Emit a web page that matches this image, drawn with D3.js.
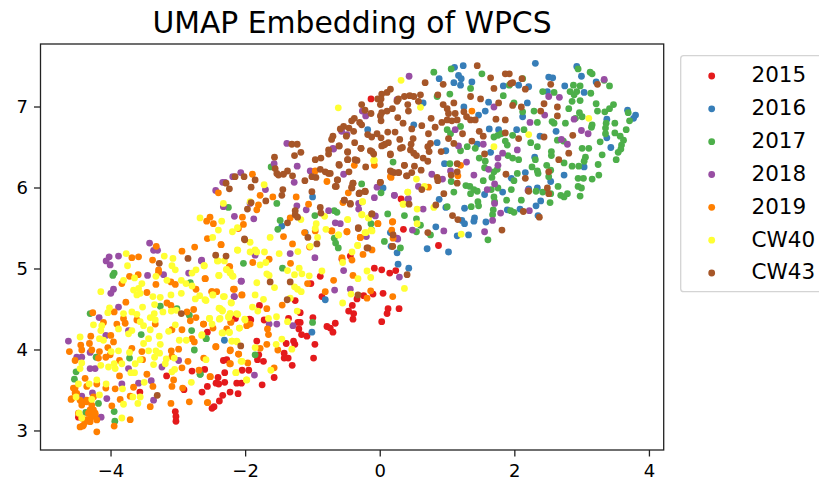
<!DOCTYPE html>
<html><head><meta charset="utf-8">
<script src="https://cdn.jsdelivr.net/npm/d3@7/dist/d3.min.js"></script>
<style>html,body{margin:0;padding:0;background:#fff;overflow:hidden}svg{display:block}text{font-family:"DejaVu Sans",sans-serif}</style>
</head><body><svg id="c" width="819" height="481"></svg>
<script>
const title="UMAP Embedding of WPCS";
const seriesNames=["2015","2016","2017","2018","2019","CW40","CW43"];
const seriesColors=["#e41a1c","#377eb8","#4daf4a","#984ea3","#ff7f00","#ffff33","#a65628"];
const xTicks=[-4,-2,0,2,4];
const yTicks=[3,4,5,6,7];
const s2015=[[-4.53,3.17],[-3.08,3.24],[-3.07,3.18],[-3.07,3.12],[-2.53,3.28],[-2.5,3.3],[-2.42,3.37],[-2.37,3.44],[-2.26,3.48],[-2.14,3.46],[-2.68,3.48],[-2.6,3.55],[-2.47,3.59],[-2.43,3.58],[-2.34,3.6],[-2.16,3.59],[-2.09,3.59],[-2.44,3.66],[-2.34,3.72],[-2.83,3.74],[-2.64,3.76],[-3.21,3.68],[-2.95,3.51],[-3.61,3.48],[-2.08,3.75],[-1.98,3.75],[-2.36,3.87],[-2.31,3.88],[-2.6,4.22],[-2.18,4.39],[-1.97,4.38],[-1.85,3.88],[-1.76,3.86],[-1.83,3.94],[-1.86,4.11],[-1.78,3.57],[-1.6,3.66],[-1.33,3.81],[-1.45,3.9],[-1.39,3.9],[-1.45,3.96],[-1.42,4.08],[-1.31,4.11],[-1.29,4.07],[-1.19,4.19],[-1.11,4.17],[-1.01,3.9],[-0.99,4.07],[-1.23,4.26],[-1.245,4.34],[-1.21,4.34],[-1.02,4.4],[-1.385,4.39],[-1.21,4.46],[-1.285,4.61],[-1.82,4.55],[-1.75,4.37],[-1.95,4.37],[-0.81,4.29],[-0.76,4.27],[-0.685,4.33],[-0.72,4.22],[-0.42,4.38],[-0.41,4.45],[-0.485,4.48],[-0.43,4.55],[0.01,4.35],[0.09,4.45],[0.105,4.51],[0.27,4.51],[0.03,4.7],[-0.12,4.69],[-0.36,4.63],[-0.26,4.67],[-0.885,4.66],[-0.91,4.91],[-1.05,4.82],[-0.1,5.01],[0.01,4.99],[0.13,4.95],[0.22,4.98],[0.335,5.49],[0.3,5.865],[-0.46,5.16],[-0.585,5.12],[-0.15,7.1],[0.86,5.29]];
const s2016=[[1.23,7.51],[1.1,7.49],[2.31,7.54],[2.93,7.5],[2.51,7.37],[2.57,7.36],[3,7.38],[0.87,7.35],[1.16,7.39],[1.2,7.35],[1.09,7.3],[1.19,7.27],[1.36,7.31],[1.83,7.26],[2.06,7.27],[2.21,7.25],[2.75,7.26],[3.22,7.31],[3.04,7.18],[2.49,7.19],[0.63,7.05],[1.24,7],[1.61,7.06],[2.19,7.05],[1.56,6.95],[1.46,6.9],[2.12,6.88],[0.49,6.78],[-0.2,6.72],[1.62,6.73],[1.76,6.72],[2.03,6.72],[2.62,6.7],[2.38,6.64],[3.38,6.62],[0.84,6.56],[0.97,6.46],[1.64,6.44],[1.44,6.54],[3.44,6.5],[2.3,6.38],[0.95,6.3],[3.04,6.26],[2.74,6.16],[1.95,6.12],[2.16,6.19],[2.34,6],[2.21,5.99],[2.54,6.08],[1.55,5.92],[1.82,5.95],[0.87,5.86],[1.25,5.75],[0.97,5.76],[2.39,5.84],[2.32,5.78],[1.89,5.73],[2.08,5.74],[2.35,5.66],[1.4,5.63],[1.39,5.59],[1.21,5.6],[1.25,5.56],[1.57,5.58],[0.82,5.52],[1.31,5.42],[1.14,5.41],[3.69,6.96],[3.81,6.9],[3.78,6.86],[3.38,6.85],[0.03,6],[0.14,5.45],[0.69,5.25],[1.01,5.21],[-1.025,5.89],[-1.485,5.53],[-1.135,5.45],[-0.835,4.62],[-1.035,4.22],[-2.345,4.12],[0.255,5.06],[0.415,5.01],[0.24,5.2],[0.15,5.28],[0.165,5.44]];
const s2017=[[0.79,7.43],[1.05,7.47],[1.51,7.41],[3.13,7.43],[3.16,7.41],[2.95,7.47],[3.34,7.33],[3.42,7.26],[2.12,7.35],[1.92,7.27],[2.88,7.27],[2.98,7.26],[1.34,7.23],[1.03,7.16],[1.83,7.14],[0.84,7.13],[2.42,7.19],[2.59,7.18],[2.83,7.19],[2.93,7.19],[2.89,7.15],[3.14,7.17],[2.86,7.07],[2.98,7.08],[3.22,7.04],[3.48,7.03],[3.42,6.98],[3.35,6.94],[3.24,6.95],[2.81,6.98],[2.29,6.95],[1.99,7.05],[2.12,6.94],[3.7,6.93],[2.97,6.93],[3.01,6.88],[2.34,6.81],[2.56,6.82],[2.59,6.8],[2.76,6.8],[2.91,6.86],[3.5,6.8],[3.72,6.83],[3.16,6.78],[3.37,6.8],[3.36,6.74],[3.15,6.75],[3.67,6.72],[3.5,6.68],[2.14,6.72],[1.69,6.63],[1.75,6.65],[1.8,6.67],[1.97,6.65],[1.86,6.58],[1.89,6.53],[2.24,6.56],[2.34,6.51],[2.64,6.59],[2.73,6.58],[3.28,6.57],[3.58,6.64],[3.63,6.59],[3.6,6.53],[3.59,6.48],[3.55,6.44],[3.01,6.49],[3.11,6.49],[2.55,6.45],[2.55,6.4],[2.31,6.35],[1.9,6.4],[1.97,6.37],[2.06,6.35],[1.47,6.37],[1.56,6.33],[1.29,6.51],[1.41,6.49],[1.19,6.46],[0.99,6.72],[1.04,6.67],[1.19,6.76],[0.18,6.32],[1.03,6.3],[1.55,6.25],[2.26,6.26],[2.34,6.21],[2.35,6.18],[2.48,6.28],[2.54,6.22],[2.51,6.14],[1.69,6.2],[1.66,6.13],[2.04,6.18],[1.99,6.09],[1.53,6.09],[1.74,6.23],[2.86,6.27],[2.96,6.27],[3.06,6.38],[3.04,6.33],[3.25,6.29],[3.26,6.16],[3.16,6.11],[2.95,6.12],[3.03,6.12],[2.95,6.02],[3,6],[2.98,5.9],[2.65,6.02],[2.69,5.91],[2.79,5.93],[2.54,5.93],[2.74,5.89],[2.32,5.96],[2.42,5.95],[1.95,5.98],[1.75,6],[1.65,5.98],[1.69,5.89],[1.7,5.83],[1.88,5.85],[2.1,5.85],[2.53,5.82],[1.27,6.03],[1.33,6.02],[1.39,5.98],[1.34,5.93],[1.44,5.96],[1.09,5.95],[1.35,5.77],[1.45,5.83],[1.46,5.78],[0.99,5.77],[0.1,5.68],[0.35,5.66],[0.53,5.62],[0.53,5.46],[0.59,5.54],[1.94,5.72],[1.99,5.7],[1.67,5.67],[1.68,5.73],[-0.15,5.56],[-0.14,5.48],[-0.7,5.38],[-0.68,5.32],[-0.64,5.26],[0.05,5.34],[0.29,5.26],[-0.29,6.05],[0,5.94],[-0.66,5.7],[-0.7,5.72],[0.74,5.42],[1.6,5.36],[1.05,6.08],[3.31,6.41],[3.52,6.35],[2.74,6.31],[3.36,6.67],[-1.645,6.26],[-1.56,5.81],[-2.285,5.76],[-1.51,5.6],[-1.545,5.49],[-2.06,5.07],[-1.475,5.01],[-1.885,3.94],[-1.025,4.34],[-0.99,5.66],[-2.62,4.14],[-2.71,3.7],[-3.995,4.95],[-4.015,4.92],[-4.355,4.45],[-3.59,4.19],[-2.835,4.24],[-2.615,4.14],[-2.795,4],[-3.305,4.54],[-2.87,4.43],[-2.855,4.83],[-3.055,4.51],[-4.565,3.73],[-4.59,3.64],[-3.765,3.9],[-4.265,3.91],[-2.705,3.7],[-4.23,3.34],[-4.42,3.23],[-3.995,3.24],[-3.985,3.12]];
const s2018=[[-3.465,5.32],[-3.405,5.23],[-3.345,5.23],[-3.93,5.16],[-4.07,5.15],[-4.115,5.1],[-4.055,5.05],[-3.495,4.92],[-2.69,5.1],[-3.255,4.93],[-2.88,4.95],[-2.09,4.85],[-2.195,4.66],[-4.005,4.75],[-4.045,4.7],[-3.93,4.53],[-4.22,4.4],[-3.78,4.24],[-4.12,4.18],[-4.68,4.11],[-4.355,3.97],[-4.555,3.91],[-4.48,3.91],[-4.355,3.77],[-4.28,3.77],[-3.78,3.77],[-3.28,3.79],[-3.03,3.87],[-3.88,3.58],[-3.44,3.62],[-3.63,3.59],[-4.32,3.47],[-4.48,3.43],[-4.105,3.4],[-3.405,3.38],[-4.19,3.17],[-1.41,6.55],[-0.71,6.48],[-1.6,6.3],[-1.255,6.27],[-2.1,6.19],[-2.22,6.14],[-2.37,6.07],[-2.335,6.07],[-1.06,6.21],[-0.56,6.17],[-1.3,6.07],[-2.475,5.97],[-1.73,5.98],[-1.96,5.81],[-2.36,5.77],[-1.26,5.78],[-1.12,5.73],[-0.785,5.72],[-2.195,5.65],[-1.905,5.62],[-0.685,5.57],[-0.61,5.56],[-0.06,6.01],[-0.1,5.88],[-0.335,5.81],[-0.335,5.74],[0.2,5.91],[0.4,5.86],[-0.085,5.655],[0.24,5.38],[-1.885,5.17],[-1.36,5.19],[-0.99,5.14],[-2.095,4.85],[-2.2,4.66],[-0.56,4.98],[0.275,4.9],[-0.46,4.75],[-0.695,4.74],[-1.675,4.32],[-1.56,4.32],[-1.32,4.3],[-1.895,3.69],[-2.685,5.11],[0.42,7.38],[3.34,7.34],[2.51,7.13],[2.67,7.12],[1.69,7],[2.45,6.9],[2.23,6.81],[2.89,6.85],[3,6.71],[3.1,6.67],[2.7,6.6],[2.79,6.54],[1.53,6.54],[1.16,6.52],[1.11,6.72],[2.04,6.47],[1.82,6.43],[1.75,6.37],[1.75,6.28],[1.28,6.32],[1.61,6.23],[0.76,6.17],[0.92,6.11],[1.39,6.16],[1.7,6.05],[1.59,5.98],[2.2,5.97],[0.56,6.02],[0.2,5.91],[0.41,5.87],[1.7,5.81],[0.63,5.74],[2.22,5.72],[1.79,5.69],[1.67,5.6],[1.55,5.46],[0.94,5.47],[0.47,5.48],[0.25,5.37],[-0.28,6.95],[-0.23,6.89],[0.24,7.09],[-0.72,6.49],[-0.59,6.7],[-0.51,6.66],[1.04,6.21],[-0.22,5.4]];
const s2019=[[-3.365,5.28],[-2.98,5.22],[-2.79,5.27],[-2.395,5.3],[-3.73,5.14],[-3.63,5.15],[-3.42,5.11],[-3.33,4.99],[-3.33,4.96],[-3.765,4.91],[-3.635,4.93],[-2.63,4.88],[-2.265,5.03],[-3.37,4.81],[-3.08,4.81],[-3.145,4.84],[-3.88,4.82],[-2.77,4.75],[-3.505,4.71],[-2.53,4.72],[-2.195,4.75],[-2.08,4.68],[-3.82,4.59],[-3.205,4.58],[-3.145,4.55],[-2.905,4.47],[-3.995,4.47],[-4.315,4.46],[-3.855,4.39],[-3.83,4.33],[-3.955,4.32],[-4.155,4.34],[-3.655,4.37],[-3.38,4.32],[-2.77,4.4],[-2.855,4.36],[-2.655,4.32],[-2.515,4.27],[-2.98,4.25],[-2.245,4.35],[-3.13,4.25],[-4.345,4.17],[-4.045,4.18],[-4.365,4.08],[-4.495,4.06],[-4.48,4],[-4.33,4],[-4.665,3.98],[-4.215,3.98],[-4.09,4.03],[-4.005,4.1],[-3.73,4.02],[-3.14,3.99],[-3.03,4.01],[-2.83,4.14],[-2.795,4.1],[-2.47,4.04],[-2.255,4],[-2.13,3.95],[-3.58,3.98],[-4.58,3.87],[-4.23,3.9],[-4.12,3.91],[-4.055,3.94],[-3.915,3.87],[-3.57,3.88],[-3.13,3.92],[-2.89,3.86],[-2.655,3.9],[-2.255,3.83],[-2.98,3.78],[-2.725,3.75],[-2.555,3.67],[-3.105,3.63],[-3.505,3.7],[-3.915,3.68],[-4.43,3.65],[-4.405,3.55],[-4.605,3.53],[-4.255,3.58],[-4.12,3.53],[-3.98,3.52],[-3.705,3.54],[-3.415,3.55],[-3.13,3.55],[-2.97,3.53],[-4.58,3.47],[-4.64,3.39],[-4.505,3.38],[-4.405,3.38],[-4.48,3.32],[-4.53,3.22],[-4.48,3.16],[-4.43,3.11],[-4.465,3.06],[-4.38,3.14],[-4.33,3.18],[-4.305,3.22],[-4.355,3.26],[-4.28,3.2],[-4.255,2.99],[-3.995,3.06],[-3.755,3.14],[-4.03,3.31],[-3.905,3.39],[-3.755,3.43],[-3.455,3.3],[-3.145,3.34],[-2.87,3.36],[-2.595,3.35],[-2.805,4.5],[-4.555,3.465],[-4.58,3.53],[-4.63,3.4],[-4.48,3.36],[-4.405,3.36],[-4.33,3.32],[-4.305,3.26],[-4.38,3.22],[-4.33,3.18],[-4.28,3.22],[-4.405,3.14],[-4.455,3.07],[-4.505,3.05],[-4.355,3.115],[-4.305,3.42],[-4.255,3.136],[-1.925,6.17],[-0.985,6.21],[-0.81,6.08],[-2.435,5.94],[-1.81,5.91],[-1.62,5.89],[-1.27,5.89],[-1.085,5.8],[-1.835,5.79],[-1.86,5.73],[-1.36,5.63],[-2.075,5.64],[-2.56,5.64],[-2.61,5.59],[-2.51,5.56],[-2.06,5.55],[-2.135,5.5],[-1.145,5.45],[-0.985,5.47],[-0.735,5.47],[-0.51,5.46],[-0.045,5.56],[0.175,5.585],[-0.31,5.39],[-1.46,5.4],[-2.6,5.375],[-2.395,5.3],[-1.325,5.31],[-1.07,5.27],[-0.27,5.18],[-0.135,5.235],[-0.435,5.11],[-1.675,5.12],[-1.92,5.08],[-1.355,5.07],[-2.27,5.03],[-0.42,4.92],[-0.71,4.86],[-1.1,4.82],[-2.635,4.88],[-2.21,4.75],[-2.085,4.68],[-2.535,4.72],[-2.46,4.72],[-0.835,4.72],[-0.21,4.64],[-0.155,4.73],[0.175,4.66],[-1.48,4.555],[-1.71,4.51],[-2.66,4.32],[-2.25,4.34],[-2.01,4.3],[-1.96,4.32],[-1.7,4.26],[-1.685,4.19],[-2.31,4.26],[-2.475,4.04],[-2.26,3.99],[-2.135,3.95],[-1.71,4.07],[-1.545,4],[-1.81,4.02],[-1.995,3.84],[-2.265,3.83],[-2.56,3.67],[-1.6,3.78],[-2.6,3.35],[-0.585,5.14],[0.15,6.13],[1.36,6.95],[1.15,6.15],[1.19,6.28],[0.71,6.01],[0.17,5.58],[-0.05,5.56],[0.16,5.48],[0.18,5.38],[-0.51,5.46],[-0.31,5.39],[-0.74,5.47],[-0.1,6.28],[-0.4,6.28],[0.14,6.14],[-0.49,5.94],[-0.57,5.82]];
const sCW40=[[-3.815,5.19],[-3.795,5.04],[-3.245,5.16],[-3.115,5.13],[-3.13,5.04],[-3.08,4.99],[-2.83,4.95],[-2.77,4.99],[-2.645,5.04],[-2.44,5.1],[-2.315,4.996],[-2.255,4.96],[-2.215,4.91],[-2.145,5.23],[-2.425,4.92],[-3.37,4.91],[-3.205,4.86],[-3.855,4.86],[-3.69,4.89],[-2.99,4.86],[-2.92,4.82],[-2.83,4.79],[-4.195,4.72],[-3.58,4.82],[-3.63,4.76],[-3.705,4.74],[-3.605,4.7],[-3.655,4.68],[-3.415,4.66],[-3.305,4.65],[-3.145,4.68],[-2.99,4.7],[-2.715,4.67],[-2.78,4.63],[-2.62,4.61],[-2.515,4.68],[-2.345,4.66],[-2.24,4.58],[-3.57,4.53],[-3.39,4.56],[-3.265,4.47],[-3.395,4.45],[-3.14,4.48],[-3.065,4.49],[-4.065,4.52],[-4.09,4.46],[-3.855,4.45],[-3.73,4.47],[-3.655,4.44],[-3.455,4.4],[-3.38,4.37],[-3.605,4.35],[-3.555,4.3],[-3.455,4.25],[-4.305,4.31],[-4.18,4.3],[-4.195,4.24],[-3.93,4.26],[-3.73,4.24],[-3.78,4.2],[-3.08,4.31],[-3.18,4.23],[-2.405,4.51],[-2.375,4.49],[-2.255,4.45],[-2.145,4.44],[-2.28,4.4],[-2.41,4.39],[-2.565,4.39],[-2.53,4.32],[-2.04,4.38],[-2.12,4.27],[-4.505,4.16],[-4.215,4.14],[-4.155,4.12],[-3.32,4.17],[-3.48,4.14],[-3.555,4.08],[-3.305,4.07],[-3.02,4.12],[-2.915,4.12],[-2.685,4.18],[-2.38,4.21],[-2.27,4.22],[-2.23,4.11],[-2.155,4.1],[-3.93,3.99],[-4.04,3.98],[-3.765,3.97],[-3.48,3.99],[-3.37,3.99],[-3.315,3.96],[-3.39,3.91],[-3.605,3.88],[-3.68,3.83],[-3.215,3.89],[-3.095,3.9],[-3.405,3.82],[-3.23,3.83],[-4.48,3.84],[-4.195,3.81],[-4.08,3.79],[-3.995,3.83],[-3.88,3.83],[-3.98,3.77],[-4.505,3.77],[-3.745,3.72],[-3.69,3.72],[-3.13,3.73],[-3.09,3.76],[-2.08,3.86],[-2.17,3.72],[-2.015,3.63],[-4.255,3.63],[-4.53,3.58],[-4.37,3.58],[-4.115,3.58],[-3.87,3.52],[-3.545,3.6],[-2.84,3.6],[-3.715,3.42],[-3.605,3.42],[-4.565,3.42],[-4.33,3.39],[-4.215,3.445],[-3.64,3.34],[-3.855,3.33],[-4.52,3.22],[-4.48,3.16],[-3.88,3.16],[-1.75,6.04],[-2.36,5.81],[-1.96,5.83],[-2.385,5.59],[-2.71,5.63],[-2.435,5.48],[-2.52,5.39],[-2.225,5.46],[-2.15,5.51],[-1.66,5.39],[-1.2,5.61],[-0.97,5.56],[-0.985,5.5],[-0.845,5.65],[-0.825,5.49],[-0.95,5.39],[-0.5,5.61],[-0.635,5.42],[-0.275,5.83],[-0.285,5.67],[-0.185,5.63],[-0.135,5.47],[-0.225,5.45],[-0.1,6.34],[0.335,5.8],[0.4,5.95],[-1.96,5.33],[-2.15,5.235],[-1.885,5.235],[-1.96,5.21],[-1.86,5.21],[-1.745,5.21],[-1.525,5.19],[-1.245,5.215],[-1.06,5.28],[-0.35,5.29],[-0.435,5.21],[-0.575,5.08],[-2.45,5.1],[-2.345,5.1],[-1.81,5.05],[-1.725,5.08],[-2.31,4.99],[-2.26,4.95],[-2.225,4.915],[-2.43,4.92],[-2.65,5.04],[-1.71,4.94],[-1.675,4.92],[-1.86,4.83],[-1.595,4.77],[-1.4,4.98],[-1.295,4.93],[-1.225,5.01],[-1.185,4.94],[-1.075,4.915],[-0.885,4.975],[-1.295,4.78],[-1.25,4.75],[-1.195,4.72],[-0.345,4.88],[-0.21,4.975],[-0.155,4.895],[0.35,4.76],[-0.45,4.69],[-0.575,4.58],[-2.52,4.68],[-2.36,4.66],[-2.635,4.62],[-1.885,4.68],[-1.76,4.626],[-2.245,4.585],[-2.425,4.515],[-2.375,4.48],[-1.925,4.53],[-1.845,4.48],[-2.26,4.45],[-2.16,4.45],[-2.285,4.41],[-2.42,4.38],[-2.57,4.39],[-2.035,4.37],[-1.685,4.39],[-1.565,4.41],[-1.255,4.48],[-1.4,4.35],[-1.36,4.64],[-2.12,4.27],[-2.37,4.21],[-2.27,4.215],[-2.68,4.19],[-2.235,4.11],[-2.16,4.11],[-1.485,4.135],[-1.57,4.07],[-1.885,4.03],[-1.335,4.01],[-2.62,3.88],[-2.095,3.86],[-1.65,3.75],[-2.175,3.72],[-2.01,3.63],[0.3,7.33],[-0.64,6.99],[0.59,6.996],[-0.11,6.34],[2.21,6.66],[1.69,6.51],[3.11,6.86],[0.53,6.11],[0.65,6.02],[0.4,5.95],[-0.28,5.83],[-0.29,5.67],[-0.19,5.63],[-0.5,5.61],[0.33,5.8],[0.54,5.74],[0.79,5.76],[0.54,5.56],[1.2,5.43],[-0.15,5.48],[-0.24,5.45],[-0.35,5.29],[-0.64,5.42]];
const sCW43=[[1.44,7.51],[1.64,7.36],[1.86,7.41],[1.92,7.41],[2.11,7.35],[1.97,7.3],[1.94,7.29],[0.93,7.28],[0.66,7.3],[1.69,7.23],[2.16,7.22],[2.54,7.28],[3.24,7.28],[0.14,7.22],[0.09,7.18],[0.01,7.16],[-0.05,7.1],[0,7.1],[-0.01,7.03],[-0.29,7.03],[-0.24,6.96],[-0.15,6.92],[0.01,6.93],[0.09,6.95],[0.17,6.98],[0.24,7.07],[0.26,7.1],[0.35,7.13],[0.43,7.14],[0.49,7.13],[0.59,7.15],[0.56,7.07],[0.4,7.03],[0.41,6.95],[-0.01,6.89],[0,6.83],[0.85,7.15],[1.34,7.13],[1.49,7.1],[1.76,7.05],[1.09,7.05],[0.93,7.03],[0.99,6.98],[1.01,6.92],[1.11,6.92],[1.24,6.94],[1.28,6.88],[1.34,6.84],[1.41,6.84],[1.97,7.02],[2.1,7],[2.44,7.04],[2.39,6.95],[2.64,7],[2.64,6.89],[0.25,6.87],[0.33,6.8],[0.75,6.86],[0.61,6.77],[0.46,6.73],[0.81,6.75],[0.91,6.81],[0.99,6.84],[1.14,6.84],[1.06,6.83],[1.72,6.85],[1.86,6.84],[-0.4,6.86],[-0.44,6.83],[-0.32,6.81],[-0.29,6.78],[-0.56,6.76],[-0.61,6.73],[-0.48,6.74],[-0.41,6.7],[-0.52,6.64],[-0.72,6.64],[-0.74,6.6],[-0.63,6.52],[-0.2,6.66],[-0.14,6.63],[-0.06,6.67],[0,6.62],[0.1,6.69],[0.21,6.69],[0.28,6.6],[0.48,6.61],[0.45,6.54],[0.71,6.67],[1.22,6.67],[1.01,6.61],[1.09,6.55],[1.36,6.58],[1.47,6.7],[1.53,6.64],[1.86,6.68],[2.06,6.61],[2.44,6.63],[2.87,6.65],[0.11,6.56],[0.06,6.54],[0.01,6.52],[0.32,6.5],[-0.3,6.49],[-0.5,6.45],[-0.16,6.46],[-0.11,6.42],[0.14,6.41],[0.44,6.47],[0.49,6.43],[0.53,6.4],[0.63,6.37],[0.7,6.33],[0.74,6.55],[0.7,6.51],[0.72,6.45],[0.9,6.45],[1.55,6.42],[2.81,6.43],[2.66,6.35],[-0.5,6.35],[-0.39,6.35],[-0.63,6.29],[-0.23,6.26],[-0.48,6.2],[0.35,6.28],[0.5,6.27],[0.6,6.22],[0.14,6.21],[0.2,6.19],[0.26,6.19],[0.38,6.15],[0.46,6.19],[1.14,6.3],[1.14,6.2],[1.05,6.16],[0.84,6.13],[0.85,6.09],[1.14,6.06],[1.87,6.17],[2.16,6.12],[2.51,6.2],[2.49,6],[2.51,5.93],[2.21,5.96],[-0.65,6.1],[-0.67,6.02],[-0.42,6.06],[-0.44,6.01],[-0.76,6.18],[-0.01,6.07],[-0.24,5.96],[-0.33,5.93],[0.61,5.98],[0.94,5.93],[0.42,5.8],[0.82,5.79],[-0.46,5.81],[-0.55,5.85],[-0.14,5.68],[1.07,5.66],[1.15,5.61],[2.13,5.71],[2.37,5.64],[1.81,5.48],[-0.34,5.51],[0.7,5.45],[-0.21,5.26],[0.17,5.28],[-1.335,6.54],[-1.255,6.54],[-0.625,6.52],[-0.785,6.47],[-0.785,6.42],[-0.5,6.44],[-0.395,6.56],[-0.3,6.49],[-0.135,6.45],[0.14,6.42],[0.04,6.53],[0.29,6.49],[-1.595,6.38],[-1.295,6.4],[-1.2,6.44],[-0.985,6.35],[-0.9,6.37],[-0.5,6.35],[-0.625,6.28],[-0.36,6.34],[0.35,6.28],[-0.91,6.23],[-1.585,6.24],[-1.56,6.18],[-1.535,6.16],[-1.4,6.21],[-1.325,6.15],[-1.46,6.17],[-0.785,6.18],[-0.835,6.2],[-1.035,6.14],[-0.975,6.13],[-1.14,6.09],[-0.655,6.1],[0.165,6.2],[0.265,6.19],[0.39,6.15],[-2.185,6.14],[-2.05,6.14],[-1.885,6.1],[-2.32,6.06],[-2.27,5.99],[-1.945,6.01],[-1.47,5.98],[-1.485,5.91],[-1.035,5.955],[-0.685,6.02],[-0.42,6.06],[-0.435,6],[-0.32,5.94],[-0.235,5.955],[-0.01,6.07],[-0.55,5.85],[-0.46,5.8],[-1.725,5.84],[-1.945,5.82],[-2,5.74],[-1.285,5.72],[-1.285,5.67],[-1.25,5.64],[-0.91,5.76],[-0.9,5.69],[-1.4,5.57],[-0.135,5.68],[-0.34,5.5],[0.18,5.42],[0.175,5.28],[-1.095,5.39],[-0.96,5.31],[-0.195,5.26],[-2.045,5.37],[-2.475,5.17],[-2.32,5.16],[-1.66,4.84],[-1.36,4.84],[0.39,4.93],[-0.345,4.68],[-1.405,4.62],[-2.1,4.05],[-2.04,5.36],[-2.89,5.13],[-3.32,5.07],[-2.99,4.45],[-3.35,3.44]];

const seriesData=[s2015,s2016,s2017,s2018,s2019,sCW40,sCW43];
const svg=d3.select("#c");
const x=d3.scaleLinear().domain([-5.048,4.212]).range([40.5,663.7]);
const y=d3.scaleLinear().domain([2.765,7.778]).range([450,44]);
// The x readings above were taken against a ruler 0.7% too short; this corrects them to the axis.
const readX=v=>0.012+0.9926*v;

svg.append("defs").append("clipPath").attr("id","plot").append("rect").attr("x",40.5).attr("y",44).attr("width",623.2).attr("height",406);
const plot=svg.append("g").attr("clip-path","url(#plot)");
seriesData.forEach((pts,i)=>{
  plot.append("g").selectAll("circle").data(pts).join("circle")
    .attr("cx",d=>x(readX(d[0]))).attr("cy",d=>y(d[1])).attr("r",3.4)
    .attr("fill",seriesColors[i]);
});

const gx=svg.append("g").attr("transform","translate(0,450)").call(d3.axisBottom(x).tickValues(xTicks).tickSize(6.5).tickPadding(7.4).offset(0));
const gy=svg.append("g").attr("transform","translate(40.5,0)").call(d3.axisLeft(y).tickValues(yTicks).tickFormat(d3.format("d")).tickSize(6.5).tickPadding(6).offset(0));
[gx,gy].forEach(g=>{
  g.select(".domain").remove();
  g.selectAll("line").attr("stroke","#222").attr("stroke-width",1.3);
  g.selectAll("text").attr("fill","#000").style("font-size","18px").style("font-family",'"DejaVu Sans"');
});
svg.append("rect").attr("x",40.5).attr("y",44).attr("width",623.2).attr("height",406).attr("fill","none").attr("stroke","#222").attr("stroke-width",1.3);

svg.append("text").attr("x",352).attr("y",33.3).attr("text-anchor","middle").attr("font-size",29.8).attr("fill","#000").text(title);

const lg=svg.append("g");
lg.append("rect").attr("x",680.7).attr("y",55.7).attr("width",150).attr("height",236).attr("rx",3).attr("fill","#fff").attr("stroke","#d4d4d4").attr("stroke-width",1.3);
const row=d3.scalePoint().domain(seriesNames).range([76,273]);
const items=lg.selectAll("g.item").data(seriesNames).join("g").attr("class","item").attr("transform",d=>`translate(0,${row(d)})`);
items.append("circle").attr("cx",711.7).attr("r",3.4).attr("fill",(d,i)=>seriesColors[i]);
items.append("text").attr("x",751.5).attr("y",6.4).attr("font-size",21.5).attr("fill","#000").text(d=>d);
</script></body></html>
